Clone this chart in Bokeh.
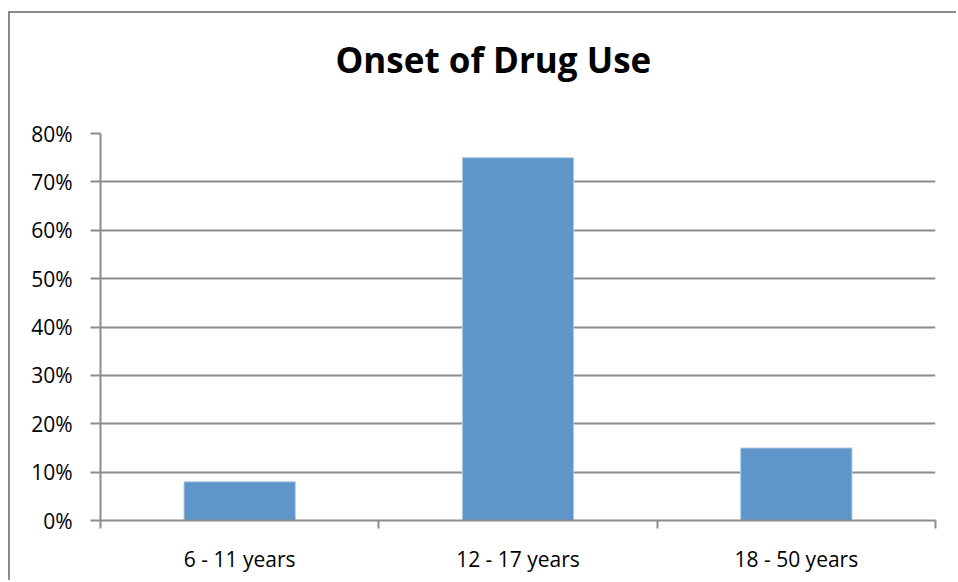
from bokeh.plotting import figure
from bokeh.models import FixedTicker, Title, NumeralTickFormatter, LinearAxis
from bokeh.embed import file_html
from bokeh.resources import INLINE

# Share of respondents by age at first drug use
categories = ["6 - 11 years", "12 - 17 years", "18 - 50 years"]
shares = [0.08, 0.75, 0.15]
y_ticks = [0.0, 0.1, 0.2, 0.3, 0.4, 0.5, 0.6, 0.7, 0.8]
chart_title = "Onset of Drug Use"

FONT = "Open Sans"
GRAY = "#8c8c8c"
BAR = "#5f96c9"

n = len(categories)
centers = [i + 0.5 for i in range(n)]

p = figure(
    width=948, height=569,
    x_range=(0, n), y_range=(0, 0.8),
    output_backend="svg", toolbar_location=None,
    min_border_left=90, min_border_right=23,
    min_border_top=120, min_border_bottom=62,
)
p.styles = {
    "margin-left": "8px", "margin-top": "11px",
    "border-top": f"2px solid {GRAY}", "border-left": f"2px solid {GRAY}",
}

p.vbar(x=centers, top=shares, width=0.4, fill_color=BAR,
       line_color="#b8cde4", line_width=1)

# bottom x axis: tick marks at category boundaries, labels at category centres
xax = p.below[0]
xax.ticker = FixedTicker(ticks=centers, minor_ticks=list(range(n + 1)))
xax.major_label_overrides = {c: lab for c, lab in zip(centers, categories)}
xax.major_tick_line_color = None
xax.minor_tick_line_color = GRAY
xax.minor_tick_out = 8
xax.minor_tick_in = 0
xax.axis_line_color = GRAY
xax.axis_line_width = 2
xax.minor_tick_line_width = 2
xax.major_label_standoff = 16
xax.major_label_text_font = FONT
xax.major_label_text_font_size = "21px"
xax.major_label_text_color = "black"

# y axis
yax = p.left[0]
yax.ticker = FixedTicker(ticks=y_ticks)
yax.formatter = NumeralTickFormatter(format="0%")
yax.minor_tick_line_color = None
yax.major_tick_out = 10
yax.major_tick_in = 0
yax.major_tick_line_color = GRAY
yax.major_tick_line_width = 2
yax.axis_line_color = GRAY
yax.axis_line_width = 2
yax.major_label_standoff = 18
yax.major_label_text_font = FONT
yax.major_label_text_font_size = "21px"
yax.major_label_text_color = "black"

# blank axis above the frame: only used as a gap between heading and plot
gap = LinearAxis(ticker=FixedTicker(ticks=[1.5]), axis_line_color=None,
                 major_tick_line_color=None, minor_tick_line_color=None,
                 major_tick_out=51, major_tick_in=0, minor_tick_out=0,
                 major_label_standoff=0, major_label_overrides={1.5: ""},
                 major_label_text_font_size="1px")
p.add_layout(gap, "above")

title = Title(text=chart_title, align="left", vertical_align="bottom",
              text_font=FONT, text_font_size="35px", text_font_style="bold",
              text_color="black", offset=235, standoff=0)
p.add_layout(title, "above")

p.xgrid.grid_line_color = None
p.ygrid.ticker = FixedTicker(ticks=y_ticks)
p.ygrid.grid_line_color = GRAY
p.ygrid.grid_line_width = 2
p.outline_line_color = None
p.background_fill_color = "white"
p.border_fill_color = "white"

open("out.html", "w").write(file_html(p, INLINE))
